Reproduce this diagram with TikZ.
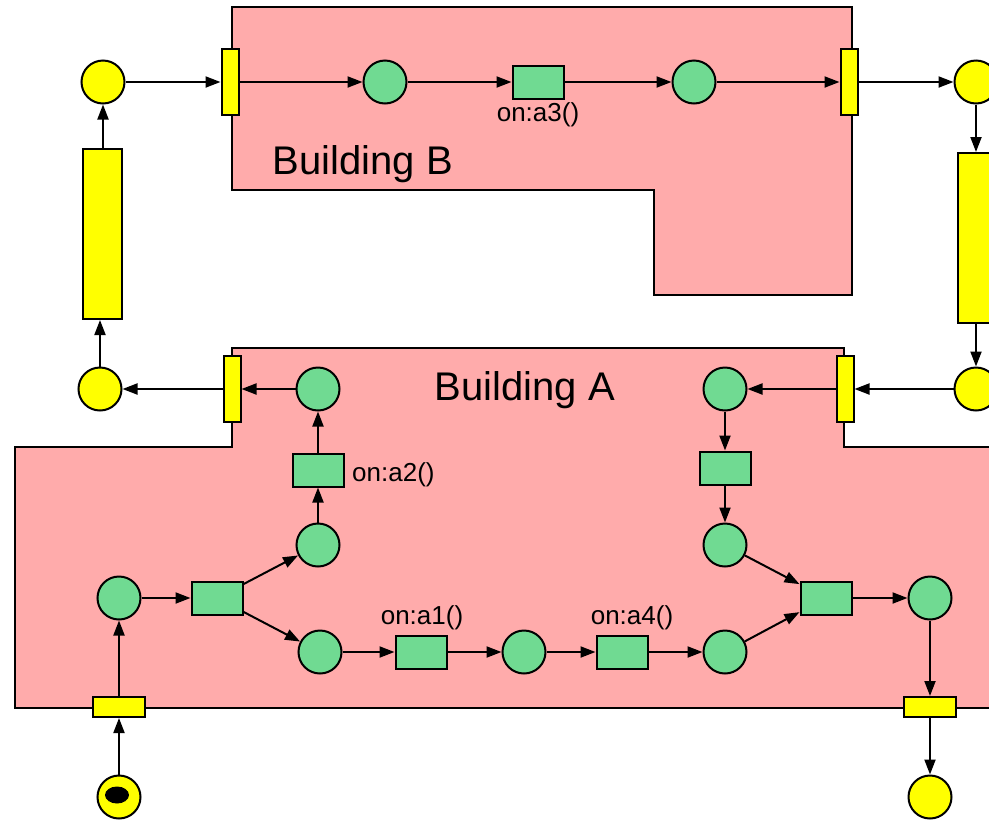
\documentclass[tikz,border=0pt]{standalone}
\usepackage{fontspec}
\setmainfont{Liberation Sans}
\usetikzlibrary{arrows.meta,shapes.geometric}
\definecolor{pinkbg}{RGB}{255,171,171}
\definecolor{pgreen}{RGB}{112,218,146}
\definecolor{pyellow}{RGB}{255,255,0}
\begin{document}
\begin{tikzpicture}[x=1pt,y=-1pt,
 place/.style={circle,draw,line width=2pt,minimum size=43pt,inner sep=0pt},
 gplace/.style={place,fill=pgreen},
 yplace/.style={place,fill=pyellow},
 gtrans/.style={rectangle,draw,line width=2pt,fill=pgreen,minimum width=51pt,minimum height=33pt,inner sep=0pt},
 ybar/.style={rectangle,draw,line width=2pt,fill=pyellow,inner sep=0pt},
 vdoor/.style={ybar,minimum width=17pt,minimum height=66pt},
 hdoor/.style={ybar,minimum width=52pt,minimum height=20pt},
 tallbar/.style={ybar,minimum width=39pt,minimum height=170pt},
 arc/.style={-{Triangle[length=15pt,width=11pt]},line width=2pt},
 building/.style={draw,line width=2pt,fill=pinkbg},
 lbl/.style={font=\fontsize{26}{31}\selectfont,inner sep=0pt},
 blbl/.style={font=\fontsize{40}{48}\selectfont,inner sep=0pt},
 token/.style={ellipse,fill=black,minimum width=24pt,minimum height=17pt,inner sep=0pt}]
\useasboundingbox (0,0) rectangle (989,820);
\clip (0,0) rectangle (989,820);
% buildings
\draw[building] (232,7) -- (852,7) -- (852,295) -- (654,295) -- (654,190) -- (232,190) -- cycle;
\draw[building] (232,348) -- (844,348) -- (844,447) -- (1000,447) -- (1000,708) -- (15,708) -- (15,447) -- (232,447) -- cycle;
\node[blbl,anchor=base] (lblB) at (363,174) {Building B};
\node[blbl,anchor=base] (lblA) at (525,400) {Building A};
% building B
\node[yplace] (yl1) at (103,82) {};
\node[vdoor] (bdl) at (230,82) {};
\node[gplace] (b1) at (385,82) {};
\node[gtrans] (ta3) at (538,82) {};
\node[lbl,anchor=base] (la3) at (538,121) {on:a3()};
\node[gplace] (b2) at (694,82) {};
\node[vdoor] (bdr) at (849,82) {};
\node[yplace] (yr1) at (976,82) {};
\node[tallbar] (rbar) at (977,238) {};
\node[tallbar] (lbar) at (102,234) {};
% building A
\node[yplace] (yr2) at (976,389) {};
\node[vdoor] (adr) at (845,389) {};
\node[gplace] (ar1) at (725,389) {};
\node[gtrans] (tr1) at (725,468) {};
\node[gplace] (ar2) at (725,545) {};
\node[gtrans] (tm) at (826,598) {};
\node[gplace] (ar3) at (930,598) {};
\node[hdoor] (dbr) at (930,707) {};
\node[yplace] (ybr) at (930,797) {};
\node[gplace] (c3) at (725,652) {};
\node[gtrans] (ta4) at (622,652) {};
\node[lbl,anchor=base] (la4) at (632,624) {on:a4()};
\node[gplace] (c2) at (524,652) {};
\node[gtrans] (ta1) at (421,652) {};
\node[lbl,anchor=base] (la1) at (422,624) {on:a1()};
\node[gplace] (c1) at (320,652) {};
\node[gtrans] (ts) at (217,598) {};
\node[gplace] (l1) at (119,598) {};
\node[hdoor] (dbl) at (119,707) {};
\node[yplace] (ybl) at (119,797) {};
\node[token] (tok) at (117,795) {};
\node[gplace] (l2) at (318,545) {};
\node[gtrans] (ta2) at (318,470) {};
\node[lbl,anchor=base west] (la2) at (352,481) {on:a2()};
\node[gplace] (l3) at (318,389) {};
\node[vdoor] (adl) at (232,389) {};
\node[yplace] (yl2) at (100,389) {};
% arcs
\draw[arc] (yl1) -- (bdl);
\draw[arc] (bdl) -- (b1);
\draw[arc] (b1) -- (ta3);
\draw[arc] (ta3) -- (b2);
\draw[arc] (b2) -- (bdr);
\draw[arc] (bdr) -- (yr1);
\draw[arc] (yr1.south) -- (yr1.south |- rbar.north);
\draw[arc] (yr2.north |- rbar.south) -- (yr2.north);
\draw[arc] (yr2) -- (adr);
\draw[arc] (adr) -- (ar1);
\draw[arc] (ar1) -- (tr1);
\draw[arc] (tr1) -- (ar2);
\draw[arc] (ar2) -- (tm);
\draw[arc] (c3) -- (tm);
\draw[arc] (tm) -- (ar3);
\draw[arc] (ar3) -- (dbr);
\draw[arc] (dbr) -- (ybr);
\draw[arc] (ybl) -- (dbl);
\draw[arc] (dbl) -- (l1);
\draw[arc] (l1) -- (ts);
\draw[arc] (ts) -- (l2);
\draw[arc] (ts) -- (c1);
\draw[arc] (c1) -- (ta1);
\draw[arc] (ta1) -- (c2);
\draw[arc] (c2) -- (ta4);
\draw[arc] (ta4) -- (c3);
\draw[arc] (l2) -- (ta2);
\draw[arc] (ta2) -- (l3);
\draw[arc] (l3) -- (adl);
\draw[arc] (adl) -- (yl2);
\draw[arc] (yl2.north) -- (yl2.north |- lbar.south);
\draw[arc] (yl1.south |- lbar.north) -- (yl1.south);
\end{tikzpicture}
\end{document}
